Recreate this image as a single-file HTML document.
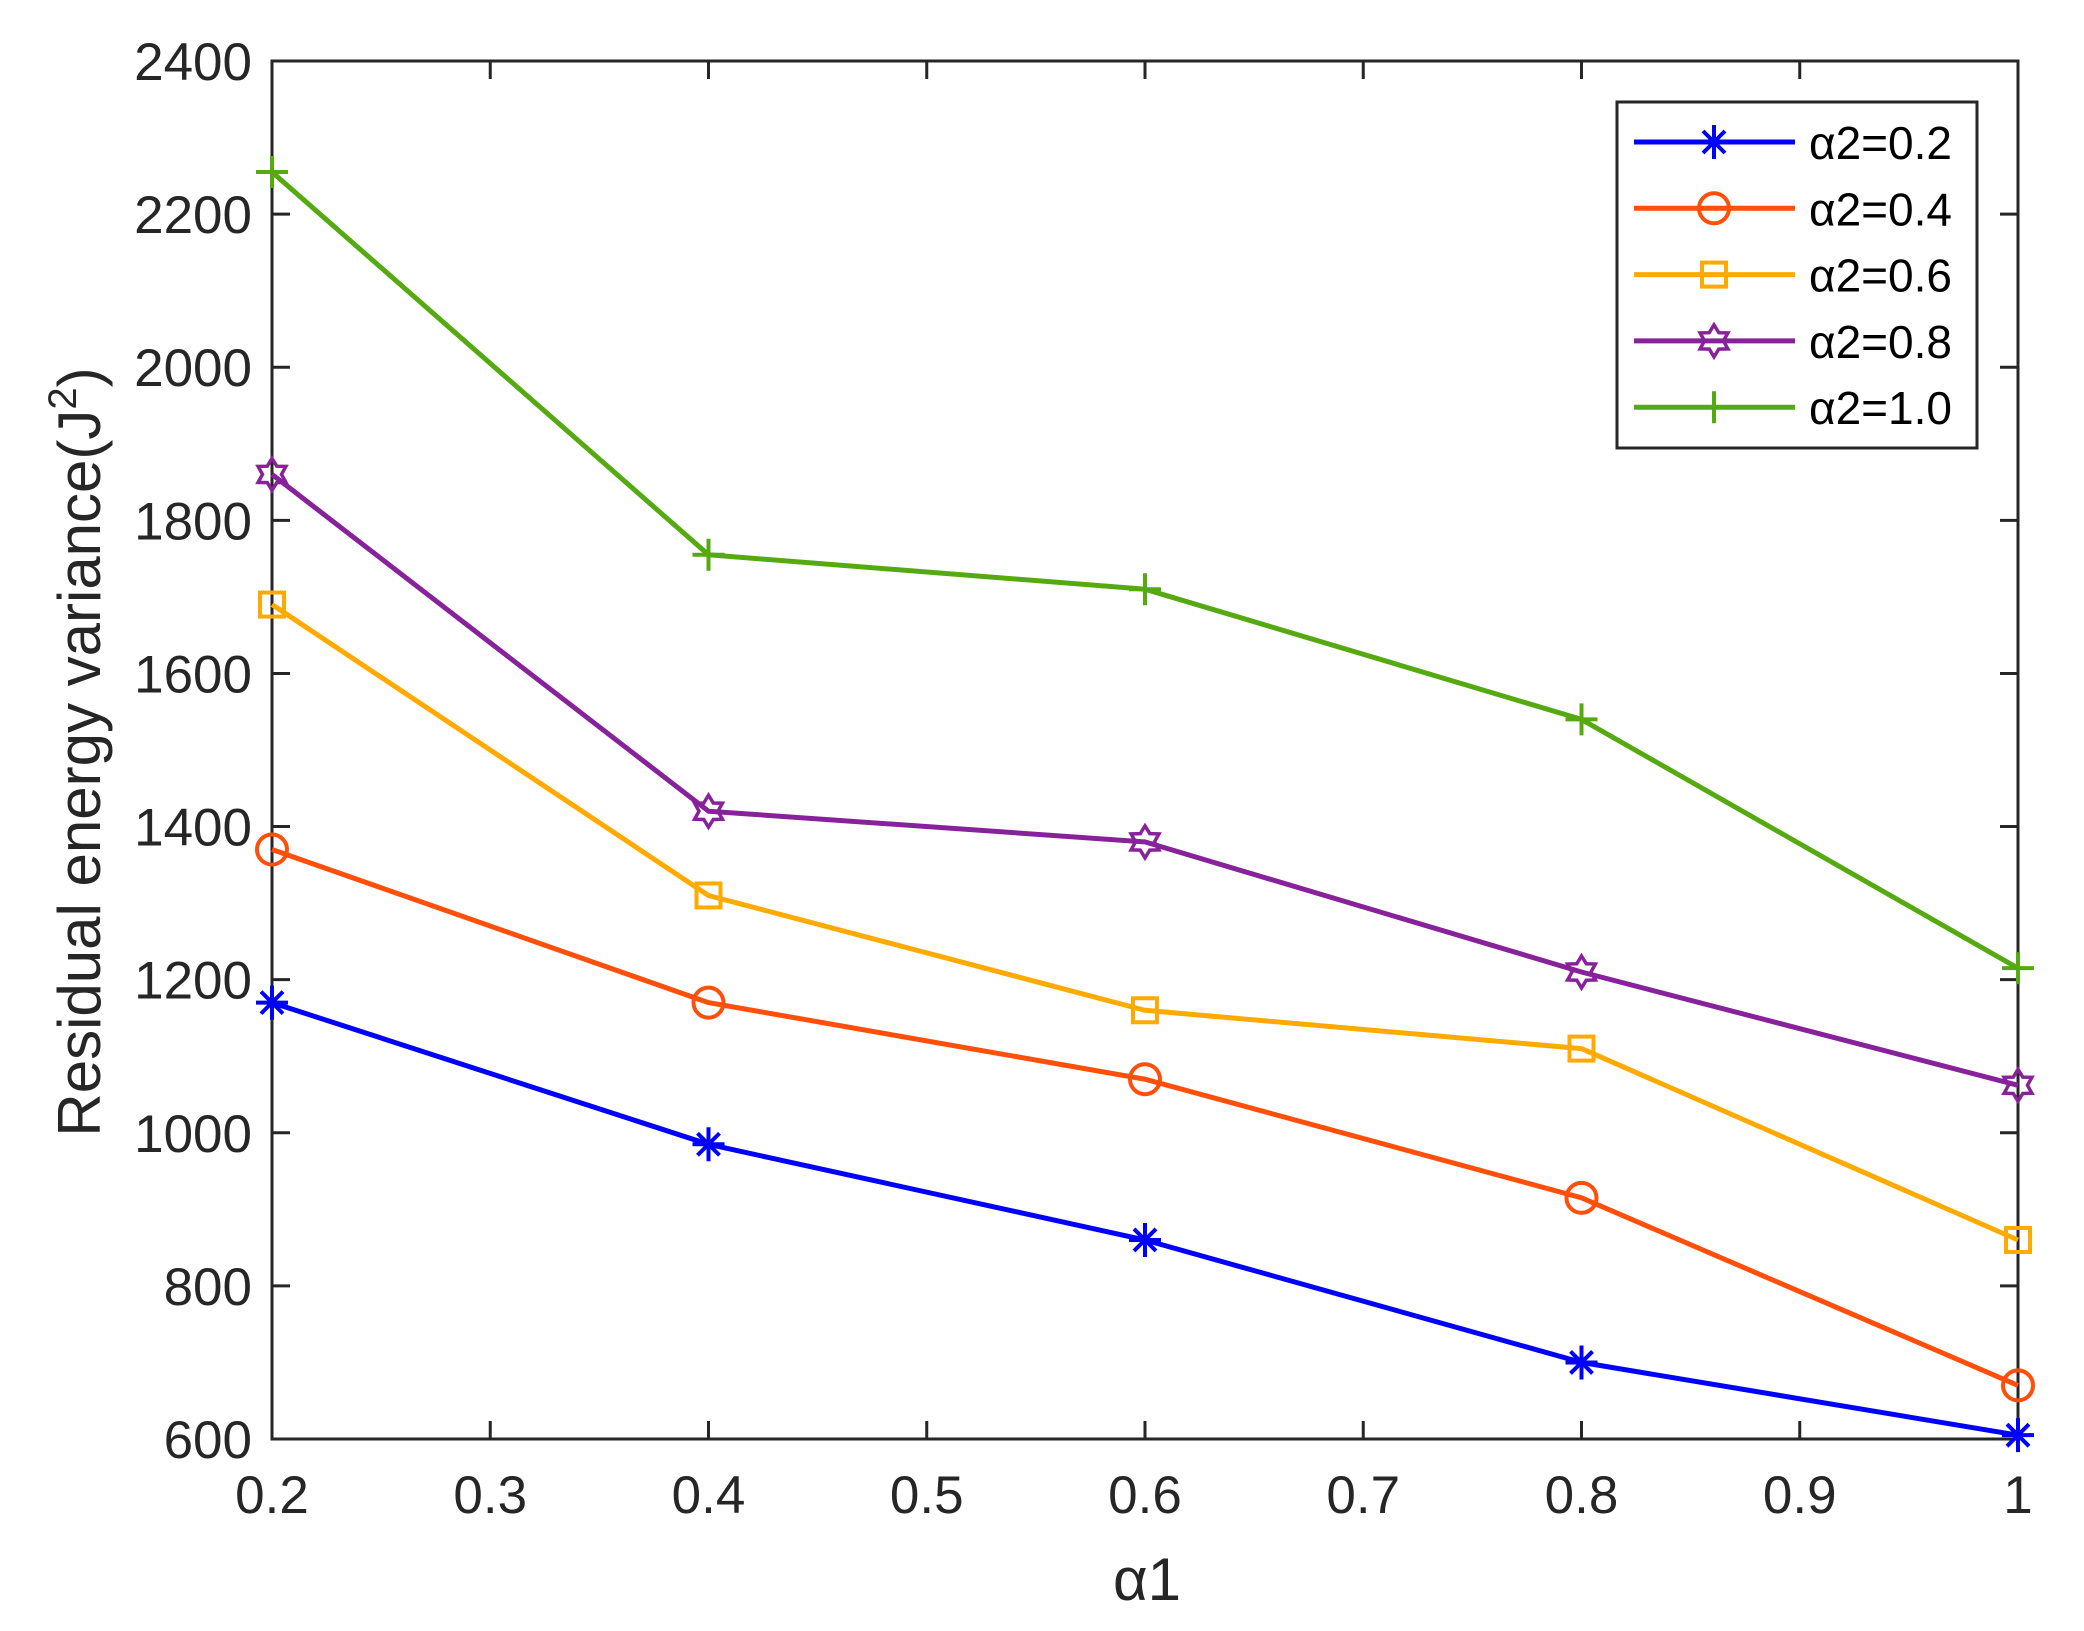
<!DOCTYPE html>
<html><head><meta charset="utf-8"><style>
html,body{margin:0;padding:0;background:#fff;}
svg{display:block;font-family:"Liberation Sans",sans-serif;}
</style></head><body>
<svg id="chart" width="2084" height="1631" viewBox="0 0 2084 1631" xmlns="http://www.w3.org/2000/svg">
<rect width="2084" height="1631" fill="#fff"/>
<g id="plot"></g>
</svg>
<script>
const xValues = [0.2, 0.4, 0.6, 0.8, 1.0];
const seriesNames = ["α2=0.2", "α2=0.4", "α2=0.6", "α2=0.8", "α2=1.0"];
const seriesA02 = [1170, 985, 860, 700, 605];
const seriesA04 = [1370, 1170, 1070, 915, 670];
const seriesA06 = [1690, 1310, 1160, 1110, 860];
const seriesA08 = [1860, 1420, 1380, 1210, 1062];
const seriesA10 = [2255, 1755, 1710, 1540, 1215];
const xTicks = [0.2, 0.3, 0.4, 0.5, 0.6, 0.7, 0.8, 0.9, 1];
const xTickLabels = ["0.2","0.3","0.4","0.5","0.6","0.7","0.8","0.9","1"];
const yTicks = [600, 800, 1000, 1200, 1400, 1600, 1800, 2000, 2200, 2400];

const NS = "http://www.w3.org/2000/svg";
const L = 272, R = 2018, T = 61, B = 1439;
const xMin = 0.2, xMax = 1.0, yMin = 600, yMax = 2400;
function sx(v){ return L + (v - xMin) / (xMax - xMin) * (R - L); }
function sy(v){ return B - (v - yMin) / (yMax - yMin) * (B - T); }
const g = document.getElementById("plot");
function mk(tag, attrs, parent){
  const e = document.createElementNS(NS, tag);
  for (const k in attrs) e.setAttribute(k, attrs[k]);
  (parent || g).appendChild(e);
  return e;
}
const colors = ["#0000ff", "#ff4f0a", "#ffaa00", "#87229a", "#55aa11"];
const markers = ["star", "circle", "square", "hexagram", "plus"];
const allSeries = [seriesA02, seriesA04, seriesA06, seriesA08, seriesA10];

function drawMarker(type, cx, cy, color, parent){
  const sw = 4;
  let e;
  if (type === "circle") {
    e = mk("circle", {cx: cx, cy: cy, r: 15, fill: "none", stroke: color, "stroke-width": sw}, parent);
  } else if (type === "square") {
    e = mk("rect", {x: cx - 12, y: cy - 12, width: 24, height: 24, fill: "none", stroke: color, "stroke-width": sw}, parent);
  } else if (type === "plus") {
    e = mk("path", {d: `M${cx-16},${cy}H${cx+16}M${cx},${cy-16}V${cy+16}`, stroke: color, "stroke-width": sw, fill: "none"}, parent);
  } else if (type === "star") {
    let d = `M${cx-16},${cy}H${cx+16}M${cx},${cy-17}V${cy+17}`;
    d += `M${cx-11},${cy-11}L${cx+11},${cy+11}M${cx-11},${cy+11}L${cx+11},${cy-11}`;
    e = mk("path", {d: d, stroke: color, "stroke-width": sw, fill: "none"}, parent);
  } else if (type === "hexagram") {
    let pts = [];
    for (let i = 0; i < 12; i++) {
      const a = -Math.PI/2 + i * Math.PI/6;
      const r = (i % 2 === 0) ? 16 : 9.5;
      pts.push((cx + r*Math.cos(a)).toFixed(1) + "," + (cy + r*Math.sin(a)).toFixed(1));
    }
    e = mk("polygon", {points: pts.join(" "), fill: "none", stroke: color, "stroke-width": 3.5}, parent);
  }
  return e;
}

const box = mk("rect", {x: L, y: T, width: R - L, height: B - T, fill: "none", stroke: "#262626", "stroke-width": 3});



xTicks.forEach((v, i) => {
  const x = sx(v);
  const t = mk("path", {d: `M${x},${B}V${B-18}M${x},${T}V${T+18}`, stroke: "#262626", "stroke-width": 3});
  
  
  const lb = mk("text", {x: x, y: B + 74, "text-anchor": "middle", "font-size": 53, fill: "#262626"});
  lb.textContent = xTickLabels[i];
  
  
});
yTicks.forEach(v => {
  const y = sy(v);
  const t = mk("path", {d: `M${L},${y}H${L+18}M${R},${y}H${R-18}`, stroke: "#262626", "stroke-width": 3});
  
  
  const lb = mk("text", {x: L - 20, y: y + 19, "text-anchor": "end", "font-size": 53, fill: "#262626"});
  lb.textContent = String(v);
  
  
});

const xt = mk("text", {x: 1147, y: 1600, "text-anchor": "middle", "font-size": 60, fill: "#262626"});
xt.textContent = "α1";


const yt = mk("text", {x: 0, y: 0, "text-anchor": "middle", "font-size": 60, fill: "#262626", transform: "translate(100,752) rotate(-90)"});
yt.innerHTML = 'Residual energy variance(J<tspan font-size="40" dy="-24">2</tspan><tspan dy="24">)</tspan>';



allSeries.forEach((vals, si) => {
  const sg = mk("g", {});
  
  
  const d = vals.map((v, i) => (i ? "L" : "M") + sx(xValues[i]).toFixed(1) + "," + sy(v).toFixed(1)).join("");
  const p = mk("path", {d: d, fill: "none", stroke: colors[si], "stroke-width": 5, "stroke-linejoin": "round"}, sg);
  
  
  vals.forEach((v, i) => {
    const m = drawMarker(markers[si], sx(xValues[i]), sy(v), colors[si], sg);
    
    
  });
});

const lg = mk("g", {});


mk("rect", {x: 1617, y: 102, width: 360, height: 346, fill: "#fff", stroke: "#262626", "stroke-width": 3}, lg);
seriesNames.forEach((name, si) => {
  const y = 142 + si * 66.3;
  const eg = mk("g", {}, lg);
  
  
  mk("path", {d: `M1634,${y}H1795`, stroke: colors[si], "stroke-width": 5}, eg);
  drawMarker(markers[si], 1714, y, colors[si], eg);
  const t = mk("text", {x: 1809, y: y + 17, "font-size": 46, fill: "#000"}, eg);
  t.textContent = name;
});
</script>
</body></html>
